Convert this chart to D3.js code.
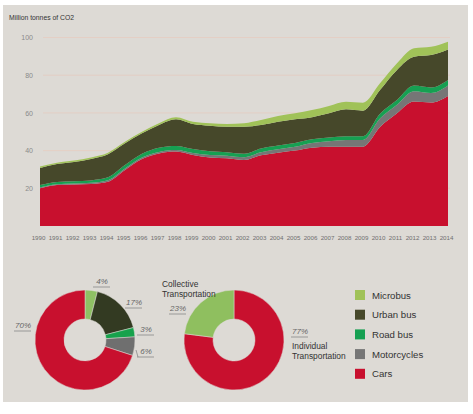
<!DOCTYPE html>
<html>
<head>
<meta charset="utf-8">
<script src="https://cdn.jsdelivr.net/npm/d3@7"></script>
<style>
    body { margin: 0; background: #fff; }
    svg { display: block; }
</style>
</head>
<body>
<svg></svg>
<script>
// DATA

const YEARS = [1990, 1991, 1992, 1993, 1994, 1995, 1996, 1997, 1998, 1999, 2000, 2001, 2002,
    2003, 2004, 2005, 2006, 2007, 2008, 2009, 2010, 2011, 2012, 2013, 2014];

// million tonnes of CO2 per mode (stack order bottom -> top)
const CARS = [20, 21.7, 22, 22.3, 23.5, 29.7, 35.5, 38.5, 39.5, 37.7, 36.4, 35.9, 35,
    37.5, 38.9, 40, 41.5, 42, 42.1, 42.1, 52.5, 59.8, 66, 65.5, 69];
const MOTORCYCLES = [0.5, 0.5, 0.5, 0.6, 0.8, 0.8, 0.8, 0.8, 0.8, 1.0, 1.2, 1.4, 1.5,
    1.6, 1.8, 2.0, 2.5, 3.0, 3.5, 3.5, 4.5, 4.5, 5.5, 5.0, 5.5];
const ROAD_BUS = [1.2, 1.2, 1.2, 1.3, 1.5, 1.8, 2.0, 2.2, 2.2, 2.2, 2.0, 1.8, 1.8,
    2.0, 2.0, 2.0, 2.0, 2.0, 2.0, 2.0, 2.5, 2.5, 3.0, 3.0, 3.0];
const URBAN_BUS = [9.1, 9.5, 10.3, 11.4, 12.3, 11.6, 10.9, 12.1, 14.1, 13.2, 13.6, 13.6, 14.4,
    12.5, 12.6, 12.6, 11.7, 12.8, 14.3, 13.6, 12.6, 16, 15.3, 17.2, 16.2];
const MICROBUS = [0.7, 0.7, 0.7, 0.8, 0.8, 0.8, 0.8, 0.9, 1.1, 1.2, 1.3, 1.4, 1.8,
    2.6, 3.1, 3.2, 3.8, 3.9, 4.0, 4.2, 3.6, 3.5, 4.5, 4.4, 4.1];

const Y_TICKS = [20, 40, 60, 80, 100];

// 2014 share by mode (left donut), clockwise from 12 o'clock
const SHARE_MODES = ['Microbus', 'Urban bus', 'Road bus', 'Motorcycles', 'Cars'];
const SHARE_VALUES = [4, 17, 3, 6, 70];

// collective vs individual (right donut)
const GROUP_NAMES = ['Individual', 'Collective'];
const GROUP_VALUES = [77, 23];

const LEGEND_LABELS = ['Microbus', 'Urban bus', 'Road bus', 'Motorcycles', 'Cars'];

// CONFIG

const WIDTH = 473, HEIGHT = 414;
const PANEL_COLOR = '#dddad5';
const FONT = '"Liberation Sans", Arial, sans-serif';
const NARROW_FONT = '"Liberation Sans Narrow", "Arial Narrow", "Liberation Sans", sans-serif';

const COLORS = {
    'Cars': '#c8102e',
    'Motorcycles': '#767676',
    'Road bus': '#16a052',
    'Urban bus': '#46482a',
    'Microbus': '#a0c258'
};
const DONUT_COLORS = {
    'Cars': '#c8102e',
    'Motorcycles': '#6f6f6f',
    'Road bus': '#17a24c',
    'Urban bus': '#333a22',
    'Microbus': '#8fc064',
    'Individual': '#c8102e',
    'Collective': '#8fbf5f'
};

// text anchors relative to each donut centre (annotation layout only)
const LEFT_LABEL_OFFSETS = [[17, -56], [49, -35], [61, -8], [61, 14], [-62, -12]];
const RIGHT_LABEL_OFFSETS = [[66, -6], [-56, -29]];

const svg = d3.select('svg')
    .attr('width', WIDTH)
    .attr('height', HEIGHT);

// background panel
svg.append('rect')
    .attr('x', 3).attr('y', 5)
    .attr('width', 465).attr('height', 397)
    .style('fill', PANEL_COLOR);

// AREA CHART

const xScale = d3.scaleLinear().domain([1990, 2014]).range([40, 448]);
const yScale = d3.scaleLinear().domain([0, 100]).range([226, 37.5]);

const rows = YEARS.map((year, i) => ({
    year: year,
    'Cars': CARS[i],
    'Motorcycles': MOTORCYCLES[i],
    'Road bus': ROAD_BUS[i],
    'Urban bus': URBAN_BUS[i],
    'Microbus': MICROBUS[i]
}));

const stackKeys = ['Cars', 'Motorcycles', 'Road bus', 'Urban bus', 'Microbus'];
const series = d3.stack().keys(stackKeys)(rows);

svg.append('text')
    .text('Million tonnes of CO2')
    .attr('x', 9).attr('y', 19.5)
    .style('font-family', FONT)
    .style('font-size', '6.8px')
    .style('fill', '#333');

// gridlines
svg.append('g')
    .selectAll('line')
    .data(Y_TICKS)
    .enter()
    .append('line')
    .attr('x1', 43).attr('x2', 450)
    .attr('y1', d => yScale(d)).attr('y2', d => yScale(d))
    .style('stroke', '#e8c9bd')
    .style('stroke-width', 0.8)
    .style('opacity', 0.8);

const area = d3.area()
    .x(d => xScale(d.data.year))
    .y0(d => yScale(d[0]))
    .y1(d => yScale(d[1]))
    .curve(d3.curveMonotoneX);

svg.append('g')
    .selectAll('path')
    .data(series)
    .enter()
    .append('path')
    .attr('d', area)
    .style('fill', d => COLORS[d.key]);

// y labels
const yAxis = svg.append('g')
    .attr('transform', 'translate(33,0)')
    .call(d3.axisLeft(yScale).tickValues(Y_TICKS).tickSize(0).tickPadding(0));
yAxis.select('.domain').remove();
yAxis.selectAll('text')
    .style('font-family', FONT)
    .style('font-size', '7px')
    .style('fill', '#8a8a8a');

// year labels
const xAxis = svg.append('g')
    .attr('transform', 'translate(-2,236)')
    .call(d3.axisBottom(xScale).tickValues(YEARS).tickFormat(d => d).tickSize(0).tickPadding(0));
xAxis.select('.domain').remove();
xAxis.selectAll('text')
    .style('font-family', NARROW_FONT)
    .style('font-size', '6.2px')
    .style('fill', '#707070');

// DONUTS

const pie = d3.pie().sort(null).value(d => d.value);
const arc = d3.arc().innerRadius(21).outerRadius(50);

function drawDonut(cx, cy, names, values, offsets) {
    const g = svg.append('g').attr('transform', `translate(${cx},${cy})`);
    const arcs = pie(names.map((name, i) => ({ name: name, value: values[i] })));

    g.selectAll('path')
        .data(arcs)
        .enter()
        .append('path')
        .attr('d', arc)
        .style('fill', d => DONUT_COLORS[d.data.name])
        .style('stroke', PANEL_COLOR)
        .style('stroke-width', 0.5);

    const labels = g.selectAll('.pct')
        .data(arcs)
        .enter()
        .append('g')
        .attr('transform', (d, i) => `translate(${offsets[i][0]},${offsets[i][1]})`);

    labels.append('text')
        .text(d => d.data.value + '%')
        .attr('text-anchor', 'middle')
        .style('font-family', NARROW_FONT)
        .style('font-size', '8px')
        .style('font-style', 'italic')
        .style('fill', '#666');

    labels.append('line')
        .attr('x1', -9).attr('x2', 8)
        .attr('y1', 3).attr('y2', 3)
        .style('stroke', '#888')
        .style('stroke-width', 0.8);

    return g;
}

const leftDonut = drawDonut(85, 340, SHARE_MODES, SHARE_VALUES, LEFT_LABEL_OFFSETS);
// leader for the motorcycles label
leftDonut.append('line')
    .attr('x1', 51).attr('y1', 10).attr('x2', 53).attr('y2', 17)
    .style('stroke', '#888').style('stroke-width', 0.8);

drawDonut(234, 340, GROUP_NAMES, GROUP_VALUES, RIGHT_LABEL_OFFSETS);

// group captions
const captions = [
    { lines: ['Collective', 'Transportation'], x: 162, y: 287 },
    { lines: ['Individual', 'Transportation'], x: 292, y: 349 }
];
captions.forEach(c => {
    svg.append('text')
        .attr('x', c.x).attr('y', c.y)
        .style('font-family', FONT)
        .style('font-size', '8.4px')
        .style('fill', '#333')
        .selectAll('tspan')
        .data(c.lines)
        .enter()
        .append('tspan')
        .attr('x', c.x)
        .attr('dy', (d, i) => i === 0 ? 0 : 9.5)
        .text(d => d);
});

// LEGEND

const legend = svg.append('g')
    .selectAll('g')
    .data(LEGEND_LABELS)
    .enter()
    .append('g')
    .attr('transform', (d, i) => `translate(355,${290 + i * 19.7})`);

legend.append('rect')
    .attr('width', 10).attr('height', 10)
    .style('fill', d => COLORS[d]);

legend.append('text')
    .text(d => d)
    .attr('x', 17).attr('y', 8.5)
    .style('font-family', FONT)
    .style('font-size', '9.6px')
    .style('fill', '#333');
</script>
</body>
</html>
